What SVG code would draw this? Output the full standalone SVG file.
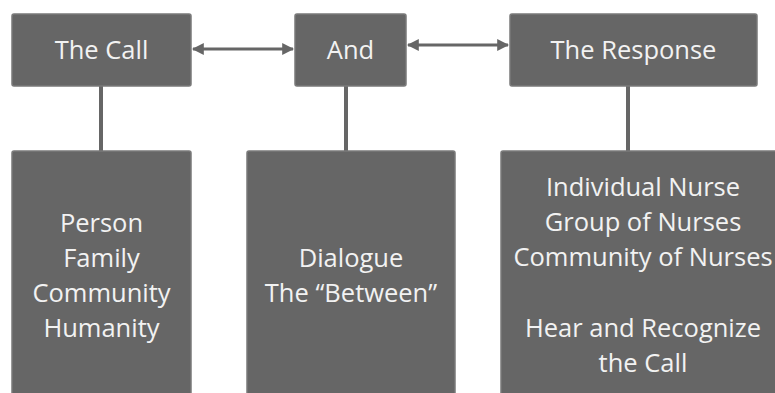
<svg xmlns="http://www.w3.org/2000/svg" width="775" height="393" viewBox="0 0 775 393">
<defs>
<marker id="ah" viewBox="0 0 10 10" refX="9" refY="5" markerWidth="4" markerHeight="4" orient="auto-start-reverse" markerUnits="strokeWidth">
<path d="M0,0 L10,5 L0,10 z" fill="#666666"/>
</marker>
<style>
.box{fill:#666666;stroke:#7a7a7a;stroke-width:1.5}
.t{font-family:"Open Sans","Noto Sans",sans-serif;font-size:25.5px;fill:#f2f2f2;text-anchor:middle}
.ln{stroke:#666666;stroke-width:4;fill:none}
.ar{stroke:#666666;stroke-width:3;fill:none}
</style>
</defs>
<rect width="775" height="393" fill="#ffffff"/>
<g id="connectors">
<line class="ar" x1="193" y1="49" x2="293" y2="49" marker-start="url(#ah)" marker-end="url(#ah)"/>
<line class="ar" x1="408" y1="45" x2="508" y2="45" marker-start="url(#ah)" marker-end="url(#ah)"/>
<line class="ln" x1="101" y1="86" x2="101" y2="152"/>
<line class="ln" x1="346" y1="86" x2="346" y2="152"/>
<line class="ln" x1="628" y1="86" x2="628" y2="152"/>
</g>
<g id="the-call">
<rect class="box" x="12" y="14" width="179" height="72" rx="2"/>
<text class="t" x="101.5" y="59">The Call</text>
</g>
<g id="and">
<rect class="box" x="295" y="14" width="111" height="72" rx="2"/>
<text class="t" x="350.5" y="59">And</text>
</g>
<g id="the-response">
<rect class="box" x="510" y="14" width="247" height="72" rx="2"/>
<text class="t" x="633.5" y="59">The Response</text>
</g>
<g id="call-detail">
<rect class="box" x="12" y="151" width="179" height="250" rx="2"/>
<text class="t" x="101.5" y="232">Person</text>
<text class="t" x="101.5" y="267">Family</text>
<text class="t" x="101.5" y="302">Community</text>
<text class="t" x="101.5" y="337">Humanity</text>
</g>
<g id="and-detail">
<rect class="box" x="247" y="151" width="208" height="250" rx="2"/>
<text class="t" x="351" y="267">Dialogue</text>
<text class="t" x="351" y="302">The “Between”</text>
</g>
<g id="response-detail">
<rect class="box" x="501" y="151" width="290" height="250" rx="2"/>
<text class="t" x="643" y="196">Individual Nurse</text>
<text class="t" x="643" y="231">Group of Nurses</text>
<text class="t" x="643" y="266">Community of Nurses</text>
<text class="t" x="643" y="337">Hear and Recognize</text>
<text class="t" x="643" y="372">the Call</text>
</g>
</svg>
